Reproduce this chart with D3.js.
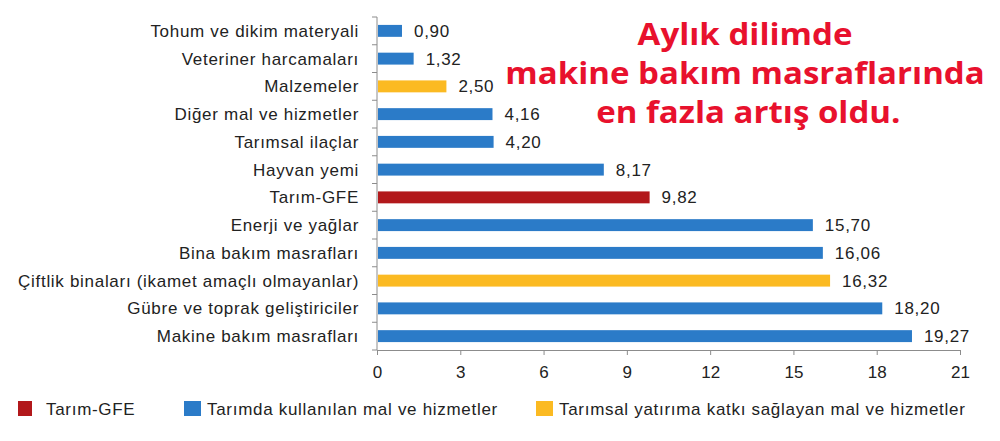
<!DOCTYPE html>
<html>
<head>
<meta charset="utf-8">
<script src="https://d3js.org/d3.v7.min.js"></script>
<style>
  body { margin: 0; background: #fff; }
  text { font-family: "Liberation Sans", Arial, sans-serif; }
</style>
</head>
<body>
<svg width="1000" height="441" id="mainSvg"></svg>
<script>
const categories = [
  "Tohum ve dikim materyali",
  "Veteriner harcamaları",
  "Malzemeler",
  "Diğer mal ve hizmetler",
  "Tarımsal ilaçlar",
  "Hayvan yemi",
  "Tarım-GFE",
  "Enerji ve yağlar",
  "Bina bakım masrafları",
  "Çiftlik binaları (ikamet amaçlı olmayanlar)",
  "Gübre ve toprak geliştiriciler",
  "Makine bakım masrafları"
];
const values = [0.90, 1.32, 2.50, 4.16, 4.20, 8.17, 9.82, 15.70, 16.06, 16.32, 18.20, 19.27];
const groups = ["use", "use", "inv", "use", "use", "use", "gfe", "use", "use", "inv", "use", "use"];
const groupKeys = ["gfe", "use", "inv"];
const groupNames = ["Tarım-GFE", "Tarımda kullanılan mal ve hizmetler", "Tarımsal yatırıma katkı sağlayan mal ve hizmetler"];
const xTicks = [0, 3, 6, 9, 12, 15, 18, 21];
const titleLines = ["Aylık dilimde", "makine bakım masraflarında", "en fazla artış oldu."];

const svg = d3.select("#mainSvg");
const color = d3.scaleOrdinal().domain(groupKeys).range(["#B2181B", "#2B7BC8", "#FBBA22"]);

const xScale = d3.scaleLinear().domain([0, 21]).range([377, 960]);
const yScale = d3.scaleBand().domain(categories).range([17, 350]).paddingInner(0.57).paddingOuter(0.285);
const yBand = d3.scaleBand().domain(categories).range([17, 350]);

const fontSize = 17;
const spacing = 0.7;
const axisColor = "#8c8c8c";

// x axis
const xAxisG = svg.append("g")
  .attr("transform", "translate(0,350)")
  .call(d3.axisBottom(xScale).tickValues(xTicks).tickSize(5).tickSizeOuter(0).tickFormat(d3.format("d")));
xAxisG.select(".domain").attr("stroke", axisColor);
xAxisG.selectAll(".tick line").attr("stroke", axisColor);
xAxisG.selectAll(".tick text")
  .attr("font-size", fontSize).attr("fill", "#222").attr("y", 16)
  .style("font-family", '"Liberation Sans", Arial, sans-serif');

// y axis line with ticks on band boundaries
svg.append("line").attr("x1", 377).attr("x2", 377).attr("y1", 17).attr("y2", 350).attr("stroke", axisColor);
const bounds = categories.map(c => yBand(c)).concat([350]);
svg.selectAll(".ytick").data(bounds).join("line")
  .attr("class", "ytick")
  .attr("x1", 372).attr("x2", 377)
  .attr("y1", d => d).attr("y2", d => d)
  .attr("stroke", axisColor);

// category labels
svg.selectAll(".cat").data(categories).join("text")
  .attr("class", "cat")
  .attr("x", 359)
  .attr("y", d => yBand(d) + yBand.bandwidth() / 2)
  .attr("dy", "0.35em")
  .attr("text-anchor", "end")
  .attr("font-size", fontSize)
  .attr("letter-spacing", spacing)
  .attr("fill", "#222")
  .text(d => d);

// bars
svg.selectAll(".bar").data(categories).join("rect")
  .attr("class", "bar")
  .attr("x", xScale(0) + 1)
  .attr("y", d => yScale(d))
  .attr("width", (d, i) => xScale(values[i]) - xScale(0) - 1)
  .attr("height", yScale.bandwidth())
  .attr("fill", (d, i) => color(groups[i]));

// value labels
svg.selectAll(".val").data(categories).join("text")
  .attr("class", "val")
  .attr("x", (d, i) => xScale(values[i]) + 12)
  .attr("y", d => yBand(d) + yBand.bandwidth() / 2)
  .attr("dy", "0.35em")
  .attr("font-size", fontSize)
  .attr("letter-spacing", spacing)
  .attr("fill", "#222")
  .text((d, i) => values[i].toFixed(2).replace(".", ","));

// legend
const legendX = [18, 184, 536];
const lg = svg.selectAll(".leg").data(groupKeys).join("g")
  .attr("class", "leg")
  .attr("transform", (d, i) => `translate(${legendX[i]},401)`);
lg.append("rect")
  .attr("width", (d, i) => i === 0 ? 14 : 17)
  .attr("height", 15)
  .attr("fill", d => color(d));
lg.append("text")
  .attr("x", (d, i) => i === 0 ? 28 : 23)
  .attr("y", 8).attr("dy", "0.35em")
  .attr("font-size", fontSize)
  .attr("letter-spacing", spacing)
  .attr("fill", "#222")
  .text((d, i) => groupNames[i]);

// headline
const titleG = svg.append("g").attr("transform", "translate(745,0) scale(1.12,1)");
titleG.selectAll(".title").data(titleLines).join("text")
  .attr("class", "title")
  .attr("x", (d, i) => [0, 0, 3][i])
  .attr("y", (d, i) => 45 + i * 39)
  .attr("text-anchor", "middle")
  .attr("font-size", 29.5)
  .attr("font-weight", "bold")
  .attr("fill", "#E8112D")
  .style("font-family", '"Open Sans", sans-serif')
  .text(d => d);
</script>
</body>
</html>
